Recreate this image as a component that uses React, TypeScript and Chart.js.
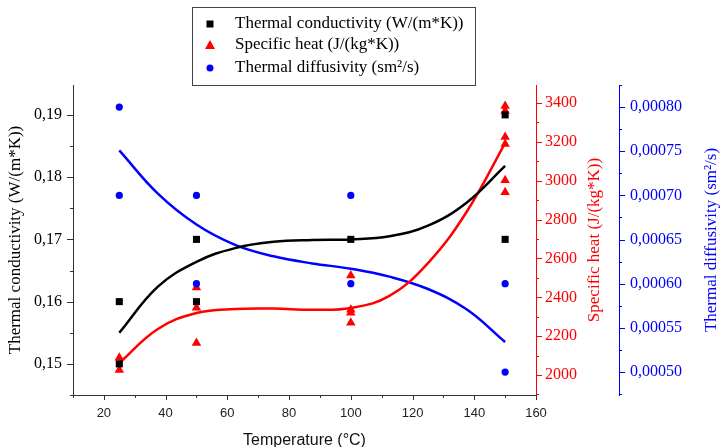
import React, { useEffect, useRef } from 'react';
import { Chart, registerables } from 'chart.js';

Chart.register(...registerables);

// ---- measured data points ----
const condX = [25, 25, 50, 50, 100, 150, 150];
const condY = [0.16, 0.15, 0.17, 0.16, 0.17, 0.19, 0.17];

const heatX = [25, 25, 50, 50, 50, 100, 100, 100, 100, 150, 150, 150, 150, 150, 150];
const heatY = [2089, 2026, 2450, 2346, 2165, 2512, 2336, 2320, 2269, 3385, 3359, 3225, 3189, 3003, 2941];

const diffX = [25, 25, 50, 50, 100, 100, 150, 150];
const diffY = [0.0008, 0.0007, 0.0007, 0.0006, 0.0007, 0.0006, 0.0006, 0.0005];

// ---- fitted curves ----
const fitX = [25, 37.5, 50, 62.5, 75, 87.5, 100, 112.5, 125, 137.5, 150];
const condFit = [0.155, 0.1624, 0.1664, 0.1686, 0.1696, 0.1699, 0.17, 0.1705, 0.1722, 0.1759, 0.1818];
const heatFit = [2062, 2237, 2319, 2340, 2342, 2336, 2345, 2407, 2576, 2839, 3194];
const diffFit = [0.000751, 0.000702, 0.000667, 0.000644, 0.000631, 0.000623, 0.000617, 0.000608, 0.000594, 0.000571, 0.000534];

// ---- axes ----
const xRange = [10, 160];
const xTicks = [10, 20, 30, 40, 50, 60, 70, 80, 90, 100, 110, 120, 130, 140, 150, 160];
const xLabels = [20, 40, 60, 80, 100, 120, 140, 160];

const condRange = [0.145, 0.1948];
const condTicks = [0.145, 0.15, 0.155, 0.16, 0.165, 0.17, 0.175, 0.18, 0.185, 0.19];
const condLabels = [0.15, 0.16, 0.17, 0.18, 0.19];

const heatRange = [1897, 3493];
const heatTicks = [1900, 2000, 2100, 2200, 2300, 2400, 2500, 2600, 2700, 2800, 2900, 3000, 3100, 3200, 3300, 3400];
const heatLabels = [2000, 2200, 2400, 2600, 2800, 3000, 3200, 3400];

const diffRange = [0.000474, 0.000825];
const diffTicks = [0.000475, 0.0005, 0.000525, 0.00055, 0.000575, 0.0006, 0.000625, 0.00065, 0.000675, 0.0007, 0.000725, 0.00075, 0.000775, 0.0008, 0.000825];
const diffLabels = [0.0005, 0.00055, 0.0006, 0.00065, 0.0007, 0.00075, 0.0008];

const seriesNames = ['Thermal conductivity (W/(m*K))', 'Specific heat (J/(kg*K))', 'Thermal diffusivity (sm\u00B2/s)'];
const xTitle = 'Temperature (\u00B0C)';

const BLACK = '#000000';
const RED = '#ff0000';
const BLUE = '#0000ff';
const SERIF = '"Liberation Serif", "Times New Roman", serif';
const SANS = '"Liberation Sans", Arial, sans-serif';

const pts = (xs: number[], ys: number[]) => xs.map((x, i) => ({ x, y: ys[i] }));

const isMajor = (v: number, labels: number[]) => labels.some((l) => Math.abs(l - v) < 1e-9);

const decorPlugin = {
  id: 'decor',
  afterDraw(chart: any) {
    const ctx: CanvasRenderingContext2D = chart.ctx;
    const { x, y, yHeat, yDiff } = chart.scales;
    const area = chart.chartArea;
    ctx.save();
    ctx.lineWidth = 1;

    // x ticks
    ctx.strokeStyle = '#333';
    xTicks.forEach((v) => {
      const px = Math.round(x.getPixelForValue(v)) + 0.5;
      const len = isMajor(v, xLabels) ? 5 : 3;
      ctx.beginPath();
      ctx.moveTo(px, area.bottom);
      ctx.lineTo(px, area.bottom + len);
      ctx.stroke();
    });

    const vTicks = (scale: any, ticks: number[], labels: number[], color: string, xPos: number, dir: number) => {
      ctx.strokeStyle = color;
      ticks.forEach((v) => {
        const py = Math.round(scale.getPixelForValue(v)) + 0.5;
        const len = isMajor(v, labels) ? 6 : 3;
        ctx.beginPath();
        ctx.moveTo(xPos, py);
        ctx.lineTo(xPos + dir * len, py);
        ctx.stroke();
      });
    };
    vTicks(y, condTicks, condLabels, '#333', area.left, -1);
    vTicks(yHeat, heatTicks, heatLabels, RED, yHeat.left, 1);
    vTicks(yDiff, diffTicks, diffLabels, BLUE, yDiff.left, 1);

    // axis titles
    const midY = (area.top + area.bottom) / 2;
    const vTitle = (text: string, cx: number, color: string) => {
      ctx.save();
      ctx.translate(cx, midY);
      ctx.rotate(-Math.PI / 2);
      ctx.font = '17px ' + SERIF;
      ctx.fillStyle = color;
      ctx.textAlign = 'center';
      ctx.textBaseline = 'middle';
      ctx.fillText(text, 0, 0);
      ctx.restore();
    };
    vTitle(seriesNames[0], 16, BLACK);
    vTitle(seriesNames[1], 595, RED);
    vTitle(seriesNames[2], 712, BLUE);

    ctx.font = '16px ' + SANS;
    ctx.fillStyle = '#111';
    ctx.textAlign = 'center';
    ctx.textBaseline = 'alphabetic';
    ctx.fillText(xTitle, (area.left + area.right) / 2, 445);

    // legend
    const bx = 192.5, by = 7.5, bw = 283, bh = 78;
    ctx.fillStyle = '#fff';
    ctx.fillRect(bx, by, bw, bh);
    ctx.strokeStyle = '#444';
    ctx.strokeRect(bx, by, bw, bh);
    const rows = [24, 45, 68];
    const mx = 210;
    ctx.fillStyle = BLACK;
    ctx.fillRect(mx - 3.5, rows[0] - 3.5, 7, 7);
    ctx.fillStyle = RED;
    ctx.beginPath();
    ctx.moveTo(mx, rows[1] - 5);
    ctx.lineTo(mx + 5, rows[1] + 4);
    ctx.lineTo(mx - 5, rows[1] + 4);
    ctx.closePath();
    ctx.fill();
    ctx.fillStyle = BLUE;
    ctx.beginPath();
    ctx.arc(mx, rows[2], 3.5, 0, Math.PI * 2);
    ctx.fill();
    ctx.font = '17px ' + SERIF;
    ctx.fillStyle = '#000';
    ctx.textAlign = 'left';
    ctx.textBaseline = 'middle';
    seriesNames.forEach((n, i) => ctx.fillText(n, 235, rows[i]));

    ctx.restore();
  },
};

export default function App() {
  const ref = useRef<HTMLCanvasElement | null>(null);

  useEffect(() => {
    if (!ref.current) return;
    const fitLine = (data: any[], color: string, axis: string) => ({
      type: 'scatter',
      data,
      yAxisID: axis,
      showLine: true,
      borderColor: color,
      backgroundColor: color,
      borderWidth: 2.5,
      pointRadius: 0,
      tension: 0.4,
      fill: false,
      order: 10,
    });
    const chart = new Chart(ref.current, {
      type: 'scatter',
      data: {
        datasets: [
          fitLine(pts(fitX, condFit), BLACK, 'y'),
          fitLine(pts(fitX, heatFit), RED, 'yHeat'),
          fitLine(pts(fitX, diffFit), BLUE, 'yDiff'),
          {
            label: seriesNames[1],
            data: pts(heatX, heatY),
            yAxisID: 'yHeat',
            pointStyle: 'triangle',
            pointRadius: 5.5,
            backgroundColor: RED,
            borderColor: RED,
            borderWidth: 0,
            order: 3,
          },
          {
            label: seriesNames[0],
            data: pts(condX, condY),
            yAxisID: 'y',
            pointStyle: 'rect',
            pointRadius: 5,
            backgroundColor: BLACK,
            borderColor: BLACK,
            borderWidth: 0,
            order: 2,
          },
          {
            label: seriesNames[2],
            data: pts(diffX, diffY),
            yAxisID: 'yDiff',
            pointStyle: 'circle',
            pointRadius: 3.6,
            backgroundColor: BLUE,
            borderColor: BLUE,
            borderWidth: 0,
            order: 1,
          },
        ] as any,
      },
      options: {
        animation: false,
        responsive: false,
        devicePixelRatio: 1,
        layout: { padding: { top: 85, left: 0, right: 0, bottom: 0 } },
        plugins: { legend: { display: false }, tooltip: { enabled: false } },
        scales: {
          x: {
            type: 'linear',
            position: 'bottom',
            min: xRange[0],
            max: xRange[1],
            afterBuildTicks: (s: any) => { s.ticks = xLabels.map((v) => ({ value: v })); },
            afterFit: (s: any) => { s.height = 52; },
            grid: { display: true, drawOnChartArea: false, drawTicks: false },
            border: { display: true, color: '#333', width: 1 },
            ticks: { padding: 11, color: '#222', font: { family: SANS, size: 13 }, maxRotation: 0, autoSkip: false },
          },
          y: {
            type: 'linear',
            position: 'left',
            min: condRange[0],
            max: condRange[1],
            afterBuildTicks: (s: any) => { s.ticks = condLabels.map((v) => ({ value: v })); },
            afterFit: (s: any) => { s.width = 73; },
            grid: { display: true, drawOnChartArea: false, drawTicks: false },
            border: { display: true, color: '#333', width: 1 },
            ticks: {
              padding: 11,
              color: '#000',
              font: { family: SERIF, size: 16 },
              autoSkip: false,
              callback: (v: any) => Number(v).toFixed(2).replace('.', ','),
            },
          },
          yHeat: {
            type: 'linear',
            position: 'right',
            min: heatRange[0],
            max: heatRange[1],
            afterBuildTicks: (s: any) => { s.ticks = heatLabels.map((v) => ({ value: v })); },
            afterFit: (s: any) => { s.width = 83; },
            grid: { display: true, drawOnChartArea: false, drawTicks: false },
            border: { display: true, color: RED, width: 1 },
            ticks: {
              padding: 9,
              color: RED,
              font: { family: SERIF, size: 16 },
              autoSkip: false,
              callback: (v: any) => String(Math.round(Number(v))),
            },
          },
          yDiff: {
            type: 'linear',
            position: 'right',
            min: diffRange[0],
            max: diffRange[1],
            afterBuildTicks: (s: any) => { s.ticks = diffLabels.map((v) => ({ value: v })); },
            afterFit: (s: any) => { s.width = 101; },
            grid: { display: true, drawOnChartArea: false, drawTicks: false },
            border: { display: true, color: BLUE, width: 1 },
            ticks: {
              padding: 11,
              color: BLUE,
              font: { family: SERIF, size: 16 },
              autoSkip: false,
              callback: (v: any) => Number(v).toFixed(5).replace('.', ','),
            },
          },
        },
      } as any,
      plugins: [decorPlugin],
    });
    return () => chart.destroy();
  }, []);

  return (
    <div style={{ position: 'fixed', left: 0, top: 0, width: 720, height: 447, background: '#fff' }}>
      <canvas ref={ref} width={720} height={447} style={{ width: 720, height: 447, display: 'block' }} />
    </div>
  );
}
